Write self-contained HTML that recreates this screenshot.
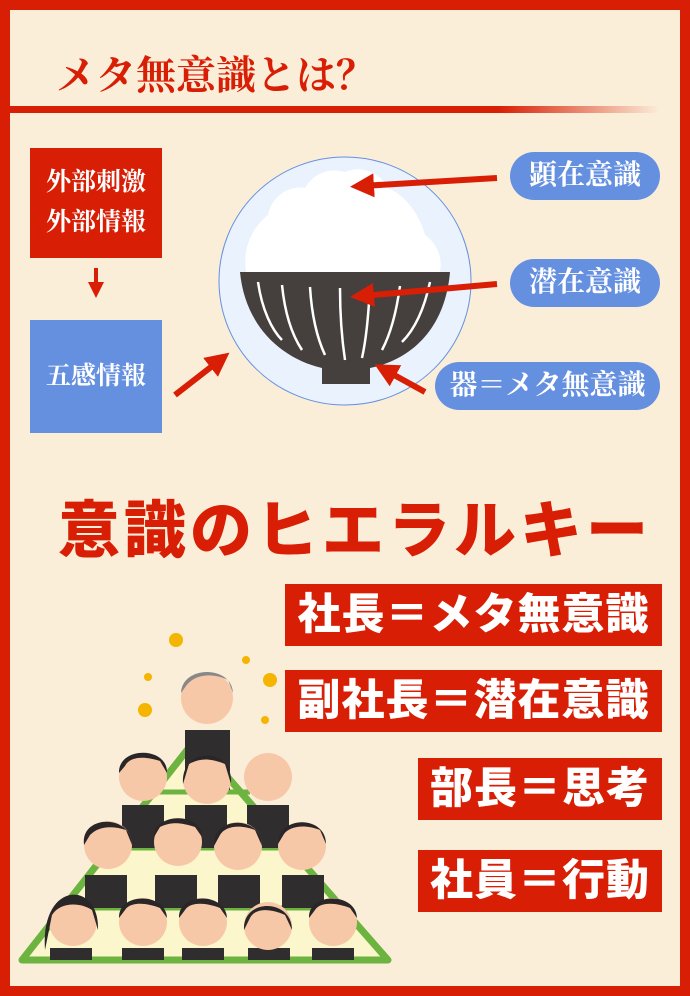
<!DOCTYPE html>
<html><head><meta charset="utf-8"><style>
body{margin:0;width:690px;height:996px;overflow:hidden;background:#fbeed9;font-family:"Liberation Sans","Noto Sans CJK JP",sans-serif;}
.frame{position:absolute;left:0;top:0;width:670px;height:976px;border:10px solid #d81e05;}
.abs{position:absolute;}
.title{left:56px;top:44px;font-family:"Noto Serif CJK SC",serif;font-size:40px;color:#d81e05;font-weight:700;}
.line{left:10px;top:106px;width:650px;height:7px;background:linear-gradient(90deg,#d81e05 0%,#d81e05 75%,rgba(216,30,5,0) 100%);}
.box{color:#fff;font-family:"Liberation Serif","Noto Serif CJK SC",serif;font-size:25px;text-align:center;line-height:40px;font-weight:700;}
.pill{background:#6590e0;color:#fff;border-radius:24px;height:48px;line-height:48px;text-align:center;font-family:"Liberation Serif","Noto Serif CJK SC",serif;font-size:28px;font-weight:700;}
.h2{left:58px;top:480px;font-size:62px;font-weight:900;color:#d81e05;letter-spacing:4px;}
.lab{background:#d81e05;color:#fff;font-weight:900;font-size:43px;height:62px;line-height:62px;text-align:center;letter-spacing:1px;}
</style></head><body>
<div class="frame"></div>
<div class="abs title">メタ無意識とは？</div>
<div class="abs line"></div>
<div class="abs box" style="left:30px;top:148px;width:132px;height:110px;background:#d81e05;padding-top:15px;box-sizing:border-box;">外部刺激<br>外部情報</div>
<div class="abs box" style="left:30px;top:320px;width:132px;height:113px;background:#6590e0;line-height:113px;">五感情報</div>
<svg class="abs" style="left:0;top:0" width="690" height="460">
<defs><marker id="ah" markerWidth="4" markerHeight="4" refX="2" refY="2" orient="auto"><path d="M0,0L4,2L0,4z" fill="#d81e05"/></marker></defs>
<line x1="96" y1="268" x2="96" y2="290" stroke="#d81e05" stroke-width="4" marker-end="url(#ah)"/>
<ellipse cx="345" cy="281" rx="126" ry="124" fill="#eaf2fd" stroke="#6590e0" stroke-width="1"/>
<path d="M246,272 C242,245 255,225 268,215 C272,195 290,185 305,188 C315,172 330,168 345,172 C360,165 380,172 388,188 C405,195 420,215 425,235 C440,245 442,262 440,272 Z" fill="#fff"/>
<path d="M240,272 L450,272 C445,330 410,360 370,368 L370,384 L322,384 L322,368 C280,358 245,325 240,272 Z" fill="#453f3e"/>
<g stroke="#fff" stroke-width="2.5" fill="none">
<path d="M258,282 C262,310 272,330 282,340"/><path d="M282,285 C285,315 292,335 302,350"/><path d="M310,287 C312,320 318,340 325,355"/><path d="M340,288 C340,320 342,340 345,360"/><path d="M370,288 C368,320 366,340 362,358"/><path d="M400,286 C396,315 390,335 382,350"/><path d="M430,282 C424,310 414,330 402,342"/></g>
<line x1="497" y1="178" x2="362" y2="186" stroke="#d81e05" stroke-width="6" marker-end="url(#ah)"/>
<line x1="497" y1="284" x2="362" y2="296" stroke="#d81e05" stroke-width="6" marker-end="url(#ah)"/>
<line x1="425" y1="392" x2="385" y2="370" stroke="#d81e05" stroke-width="6" marker-end="url(#ah)"/>
<line x1="175" y1="395" x2="220" y2="360" stroke="#d81e05" stroke-width="6" marker-end="url(#ah)"/>
</svg>
<div class="abs pill" style="left:510px;top:152px;width:150px;">顕在意識</div>
<div class="abs pill" style="left:510px;top:259px;width:150px;">潜在意識</div>
<div class="abs pill" style="left:435px;top:362px;width:225px;">器＝メタ無意識</div>
<div class="abs h2">意識のヒエラルキー</div>
<div class="abs lab" style="left:285px;top:584px;width:377px;">社長＝メタ無意識</div>
<div class="abs lab" style="left:285px;top:670px;width:377px;">副社長＝潜在意識</div>
<div class="abs lab" style="left:418px;top:758px;width:244px;">部長＝思考</div>
<div class="abs lab" style="left:418px;top:850px;width:244px;">社員＝行動</div>
<svg class="abs" style="left:0;top:580px" width="400" height="400">
<path d="M195,160 L388,380 L22,380 Z" fill="#fbf6cc" stroke="#6db33f" stroke-width="7" stroke-linejoin="round"/>
<g stroke="#6db33f" stroke-width="5"><line x1="150" y1="212" x2="250" y2="212"/><line x1="100" y1="268" x2="300" y2="268"/><line x1="62" y1="328" x2="338" y2="328"/></g>
<g fill="#f5b400"><circle cx="176" cy="60" r="7"/><circle cx="246" cy="80" r="4"/><circle cx="145" cy="130" r="7"/><circle cx="270" cy="100" r="7"/><circle cx="148" cy="97" r="4"/><circle cx="265" cy="140" r="4"/></g>
<g fill="#2f2d2e">
<rect x="185" y="150" width="45" height="60"/>
<rect x="122" y="225" width="42" height="43"/><rect x="185" y="225" width="42" height="43"/><rect x="247" y="225" width="42" height="43"/>
<rect x="85" y="295" width="42" height="33"/><rect x="155" y="295" width="42" height="33"/><rect x="218" y="295" width="42" height="33"/><rect x="282" y="295" width="42" height="33"/>
<rect x="50" y="368" width="42" height="12"/><rect x="122" y="368" width="42" height="12"/><rect x="182" y="368" width="42" height="12"/><rect x="248" y="368" width="42" height="12"/><rect x="312" y="368" width="42" height="12"/>
</g>
<g fill="#f7c8a8">
<circle cx="207" cy="118" r="26"/>
<circle cx="143" cy="197" r="24"/><circle cx="207" cy="200" r="24"/><circle cx="268" cy="197" r="24"/>
<circle cx="108" cy="265" r="24"/><circle cx="178" cy="262" r="24"/><circle cx="238" cy="266" r="24"/><circle cx="302" cy="266" r="24"/>
<circle cx="73" cy="342" r="24"/><circle cx="143" cy="342" r="24"/><circle cx="203" cy="342" r="24"/><circle cx="268" cy="346" r="24"/><circle cx="333" cy="342" r="24"/>
</g>
<path d="M181,113 C182,85 232,85 233,113 L228,100 C215,93 195,93 186,106Z" fill="#888"/>
<g fill="#2a2627">
<path d="M119,193 C118,166 168,166 167,193 L160,181 C145,176 130,176 125,186Z"/><path d="M183,204 C180,166 234,166 231,204 L225,184 C210,178 200,178 189,184Z"/>
<path d="M84,265 C80,234 132,234 132,265 L126,250 C110,245 98,247 90,255Z"/><path d="M154,257 C154,232 202,232 202,257 L195,247 C180,242 170,242 160,247Z"/>
<path d="M214,266 C212,235 262,235 262,266 L255,250 C240,244 225,246 220,255Z"/><path d="M278,264 C278,235 326,235 326,264 L320,250 C305,244 290,246 284,254Z"/>
<path d="M45,370 C40,300 100,300 98,350 L92,330 C80,322 60,322 52,335Z"/><path d="M119,338 C118,312 166,312 167,338 L160,328 C145,322 130,322 125,330Z"/>
<path d="M179,338 C178,312 226,312 227,338 L220,328 C205,322 190,322 185,330Z"/><path d="M244,350 C242,318 292,318 292,350 L285,335 C270,328 255,328 250,338Z"/><path d="M309,338 C308,312 356,312 357,338 L350,328 C335,322 320,322 315,330Z"/>
</g>
</svg>
</body></html>
